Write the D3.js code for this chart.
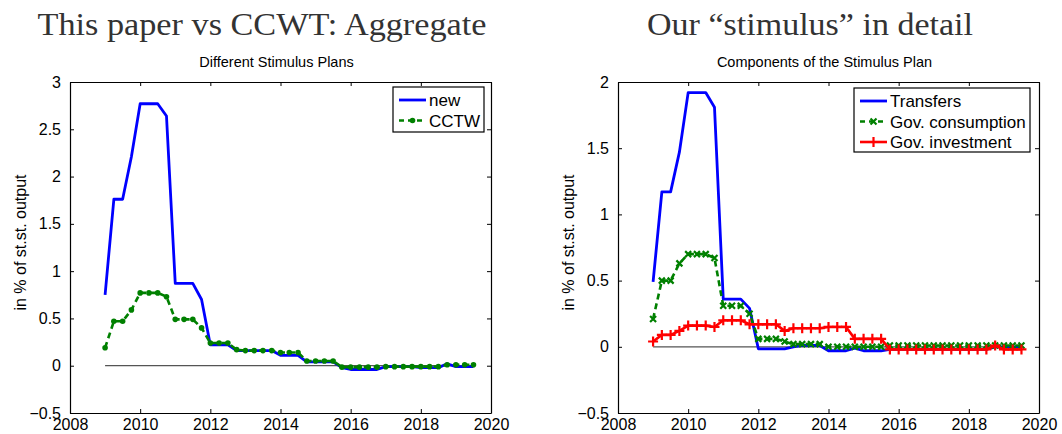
<!DOCTYPE html>
<html>
<head>
<meta charset="utf-8">
<script src="https://cdn.jsdelivr.net/npm/d3@7"></script>
<style>
  html, body { margin: 0; padding: 0; background: #fff; }
  svg { display: block; }
  .tick text { font-family: "Liberation Sans", Arial, sans-serif; font-size: 16px; fill: #000; }
</style>
</head>
<body>
<svg id="chart" width="1062" height="434"></svg>
<script>
// Quarterly horizon of the stimulus paths
const quarters = d3.range(2009, 2019.51, 0.25);

// Left panel: aggregate stimulus, this paper vs CCTW (% of steady-state output)
const aggNew = [
  0.75, 1.76, 1.76, 2.21,
  2.77, 2.77, 2.77, 2.64,
  0.87, 0.87, 0.87, 0.70,
  0.22, 0.22, 0.22, 0.16,
  0.16, 0.16, 0.16, 0.16,
  0.11, 0.11, 0.11, 0.04,
  0.04, 0.04, 0.04, -0.02,
  -0.04, -0.04, -0.04, -0.04,
  -0.01, -0.01, -0.01, -0.01,
  -0.02, -0.02, -0.02, 0.02,
  -0.01, -0.01, -0.01
];
const aggCCTW = [
  0.19, 0.47, 0.47, 0.59,
  0.77, 0.77, 0.77, 0.73,
  0.49, 0.49, 0.49, 0.40,
  0.24, 0.24, 0.24, 0.17,
  0.16, 0.16, 0.16, 0.16,
  0.14, 0.14, 0.14, 0.05,
  0.05, 0.05, 0.05, -0.015,
  -0.015, -0.015, -0.015, -0.015,
  -0.01, -0.01, -0.01, -0.01,
  -0.01, -0.01, -0.01, 0.01,
  0.01, 0.01, 0.01
];

// Right panel: components of the stimulus plan
const transfers = [
  0.49, 1.17, 1.17, 1.47,
  1.92, 1.92, 1.92, 1.81,
  0.36, 0.36, 0.36, 0.29,
  -0.015, -0.015, -0.015, -0.015,
  0.0, 0.01, 0.01, 0.01,
  -0.03, -0.03, -0.03, -0.01,
  -0.03, -0.03, -0.03, -0.02,
  -0.02, -0.02, -0.02, -0.02,
  -0.02, -0.02, -0.02, -0.02,
  -0.02, -0.02, -0.02, 0.0,
  0.0, 0.0, 0.0
];
const govConsumption = [
  0.21, 0.50, 0.50, 0.63,
  0.70, 0.70, 0.70, 0.67,
  0.31, 0.31, 0.31, 0.25,
  0.06, 0.06, 0.06, 0.04,
  0.02, 0.02, 0.02, 0.02,
  0.0, 0.0, 0.0, 0.0,
  0.0, 0.0, 0.0, 0.01,
  0.01, 0.01, 0.01, 0.01,
  0.01, 0.01, 0.01, 0.01,
  0.01, 0.01, 0.01, 0.01,
  0.01, 0.01, 0.01
];
const govInvestment = [
  0.04, 0.09, 0.09, 0.12,
  0.16, 0.16, 0.16, 0.15,
  0.20, 0.20, 0.20, 0.17,
  0.17, 0.17, 0.17, 0.12,
  0.14, 0.14, 0.14, 0.14,
  0.15, 0.15, 0.15, 0.06,
  0.06, 0.06, 0.06, -0.02,
  -0.02, -0.02, -0.02, -0.02,
  -0.02, -0.02, -0.02, -0.02,
  -0.02, -0.02, -0.02, 0.01,
  -0.02, -0.02, -0.02
];

// Tick values and labels
const xTicks = [2008, 2010, 2012, 2014, 2016, 2018, 2020];
const xTickLabels = ["2008", "2010", "2012", "2014", "2016", "2018", "2020"];
const yTicksLeft = [-0.5, 0, 0.5, 1, 1.5, 2, 2.5, 3];
const yTickLabelsLeft = ["\u22120.5", "0", "0.5", "1", "1.5", "2", "2.5", "3"];
const yTicksRight = [-0.5, 0, 0.5, 1, 1.5, 2];
const yTickLabelsRight = ["\u22120.5", "0", "0.5", "1", "1.5", "2"];

const svg = d3.select("#chart");

function drawPanel(opts) {
  const { left, right, top, bottom, yDomain, yTicks, yLabels, heading, subtitle, series, legend } = opts;
  const x = d3.scaleLinear().domain([2008, 2020]).range([left, right]);
  const y = d3.scaleLinear().domain(yDomain).range([bottom, top]);
  const g = svg.append("g");

  // Big serif heading
  g.append("text")
    .attr("x", opts.headingX).attr("y", 35)
    .attr("text-anchor", "middle")
    .attr("font-family", "'Liberation Serif', 'DejaVu Serif', serif")
    .attr("font-size", 31)
    .attr("fill", "#333")
    .attr("textLength", opts.headingWidth)
    .attr("lengthAdjust", "spacingAndGlyphs")
    .text(heading);

  // Axes subtitle
  g.append("text")
    .attr("x", (left + right) / 2 - 4).attr("y", 67)
    .attr("text-anchor", "middle")
    .attr("font-family", "'Liberation Sans', Arial, sans-serif")
    .attr("font-size", 14.5)
    .attr("fill", "#000")
    .text(subtitle);

  // Y label
  g.append("text")
    .attr("transform", `translate(${left - 44},${(top + bottom) / 2 - 5}) rotate(-90)`)
    .attr("text-anchor", "middle")
    .attr("font-family", "'Liberation Sans', Arial, sans-serif")
    .attr("font-size", 16)
    .attr("fill", "#000")
    .text("in % of st.st. output");

  // Axes with inward ticks on all four sides
  const tickLen = 4;
  g.append("g").attr("transform", `translate(0,${bottom})`)
    .call(d3.axisBottom(x).tickValues(xTicks).tickSize(-tickLen).tickSizeOuter(0)
      .tickPadding(6).tickFormat((d, i) => xTickLabels[i]))
    .call(a => a.selectAll("text").attr("dy", "0.71em"));
  g.append("g").attr("transform", `translate(0,${top})`)
    .call(d3.axisTop(x).tickValues(xTicks).tickSize(-tickLen).tickSizeOuter(0).tickFormat(""));
  g.append("g").attr("transform", `translate(${left},0)`)
    .call(d3.axisLeft(y).tickValues(yTicks).tickSize(-tickLen).tickSizeOuter(0)
      .tickPadding(9).tickFormat((d, i) => yLabels[i]));
  g.append("g").attr("transform", `translate(${right},0)`)
    .call(d3.axisRight(y).tickValues(yTicks).tickSize(-tickLen).tickSizeOuter(0).tickFormat(""));
  g.selectAll(".domain").attr("stroke", "#000").attr("stroke-width", 1.2);
  g.selectAll(".tick line").attr("stroke", "#000").attr("stroke-width", 1);

  // Zero reference line
  g.append("line")
    .attr("x1", x(quarters[0])).attr("x2", x(quarters[quarters.length - 1]))
    .attr("y1", y(0)).attr("y2", y(0))
    .attr("stroke", "#555").attr("stroke-width", 1.2);

  const line = d3.line().x((d, i) => x(quarters[i])).y(d => y(d));

  series.forEach(s => {
    g.append("path")
      .datum(s.values)
      .attr("fill", "none")
      .attr("stroke", s.color)
      .attr("stroke-width", s.width)
      .attr("stroke-dasharray", s.dash || null)
      .attr("stroke-linejoin", "round")
      .attr("d", line);
    drawMarkers(g, s, s.values.map((v, i) => [x(quarters[i]), y(v)]));
  });

  // Legend
  const lg = g.append("g");
  lg.append("rect")
    .attr("x", legend.x).attr("y", legend.y)
    .attr("width", legend.w).attr("height", legend.h)
    .attr("fill", "#fff").attr("stroke", "#000").attr("stroke-width", 1.2);
  series.forEach((s, i) => {
    const cy = legend.y + 13 + i * 20.5;
    const x0 = legend.x + 6, x1 = legend.x + 33;
    lg.append("line")
      .attr("x1", x0).attr("x2", x1).attr("y1", cy).attr("y2", cy)
      .attr("stroke", s.color).attr("stroke-width", s.width)
      .attr("stroke-dasharray", s.dash ? "5,4" : null);
    drawMarkers(lg, s, [[(x0 + x1) / 2, cy]]);
    lg.append("text")
      .attr("x", x1 + 3).attr("y", cy + 6)
      .attr("font-family", "'Liberation Sans', Arial, sans-serif")
      .attr("font-size", 17)
      .attr("fill", "#000")
      .text(s.name);
  });
}

function drawMarkers(g, s, pts) {
  if (s.marker === "dot") {
    g.selectAll(null).data(pts).enter().append("circle")
      .attr("cx", d => d[0]).attr("cy", d => d[1]).attr("r", 2.8)
      .attr("fill", s.color);
  } else if (s.marker === "x") {
    const r = 3;
    g.selectAll(null).data(pts).enter().append("path")
      .attr("d", d => `M${d[0] - r},${d[1] - r}L${d[0] + r},${d[1] + r}M${d[0] - r},${d[1] + r}L${d[0] + r},${d[1] - r}`)
      .attr("stroke", s.color).attr("stroke-width", 2.2).attr("fill", "none");
  } else if (s.marker === "plus") {
    const r = 5;
    g.selectAll(null).data(pts).enter().append("path")
      .attr("d", d => `M${d[0] - r},${d[1]}L${d[0] + r},${d[1]}M${d[0]},${d[1] - r}L${d[0]},${d[1] + r}`)
      .attr("stroke", s.color).attr("stroke-width", 2.2).attr("fill", "none");
  }
}

drawPanel({
  left: 70, right: 491, top: 82, bottom: 413,
  yDomain: [-0.5, 3], yTicks: yTicksLeft, yLabels: yTickLabelsLeft,
  heading: "This paper vs CCWT: Aggregate", headingX: 262, headingWidth: 449,
  subtitle: "Different Stimulus Plans",
  series: [
    { name: "new", values: aggNew, color: "#0000ff", width: 2.8 },
    { name: "CCTW", values: aggCCTW, color: "#008000", width: 2.6, dash: "6,4", marker: "dot" }
  ],
  legend: { x: 393, y: 87, w: 91, h: 45 }
});

drawPanel({
  left: 618, right: 1039, top: 82, bottom: 413,
  yDomain: [-0.5, 2], yTicks: yTicksRight, yLabels: yTickLabelsRight,
  heading: "Our \u201cstimulus\u201d in detail", headingX: 810, headingWidth: 326,
  subtitle: "Components of the Stimulus Plan",
  series: [
    { name: "Transfers", values: transfers, color: "#0000ff", width: 2.8 },
    { name: "Gov. consumption", values: govConsumption, color: "#008000", width: 2.6, dash: "6,4", marker: "x" },
    { name: "Gov. investment", values: govInvestment, color: "#ff0000", width: 2.6, marker: "plus" }
  ],
  legend: { x: 854, y: 88, w: 176, h: 64 }
});
</script>
</body>
</html>
